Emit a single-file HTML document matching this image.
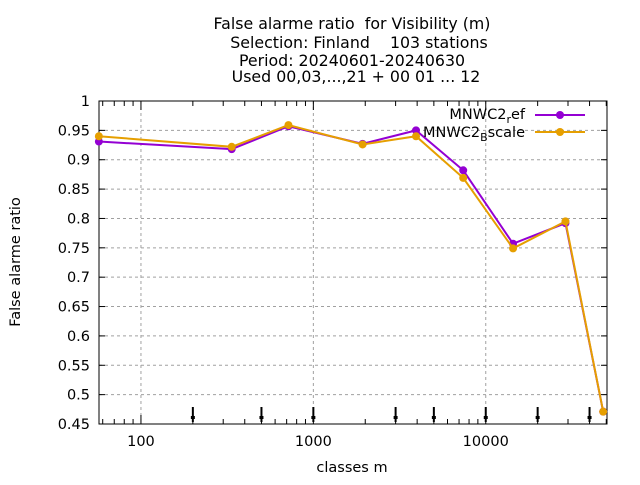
<!DOCTYPE html>
<html><head><meta charset="utf-8"><style>
body{margin:0;background:#fff;}
svg text{font-family:"DejaVu Sans","Liberation Sans",sans-serif;font-size:14.5px;fill:#000;white-space:pre;}
</style></head><body>
<svg id="chart" width="640" height="480">
<g text-anchor="middle" style="font-size:15.8px">
<text x="352" y="29" style="font-size:15.8px">False alarme ratio  for Visibility (m)</text>
<text x="359" y="48" style="font-size:15.8px">Selection: Finland    103 stations</text>
<text x="352" y="66" style="font-size:15.8px">Period: 20240601-20240630</text>
<text x="356" y="82" style="font-size:15.8px">Used 00,03,...,21 + 00 01 ... 12</text>
</g>
<g id="grid"></g>
<g id="axes"></g>
<g id="series"></g>
<text x="352" y="472" text-anchor="middle">classes m</text>
<text transform="translate(20,262) rotate(-90)" text-anchor="middle">False alarme ratio</text>
<g>
<text x="525" y="119" text-anchor="end">MNWC2<tspan font-size="11" dy="4">r</tspan><tspan dy="-4">ef</tspan></text>
<line x1="535" y1="115" x2="585" y2="115" stroke="#9400d3" stroke-width="2"/>
<circle cx="560" cy="115" r="4" fill="#9400d3"/>
<text x="525" y="137" text-anchor="end">MNWC2<tspan font-size="11" dy="4">B</tspan><tspan dy="-4">scale</tspan></text>
<line x1="535" y1="132" x2="585" y2="132" stroke="#e69f00" stroke-width="2"/>
<circle cx="560" cy="132" r="4" fill="#e69f00"/>
</g>
</svg>
<script>
const xClasses=[57,336,717,1930,3940,7400,14400,29000,48000];
const refValues=[0.931,0.918,0.957,0.927,0.950,0.882,0.757,0.792,0.471];
const bscaleValues=[0.940,0.922,0.959,0.926,0.940,0.869,0.749,0.795,0.471];
const yTicks=[0.45,0.5,0.55,0.6,0.65,0.7,0.75,0.8,0.85,0.9,0.95,1];
const yTickLabels=["0.45","0.5","0.55","0.6","0.65","0.7","0.75","0.8","0.85","0.9","0.95","1"];
const xTicks=[100,1000,10000];
const xTickLabels=["100","1000","10000"];
const arrowClasses=[200,500,1000,3000,5000,10000,20000,40000];

const L=99,R=607,T=101,B=424;
const lmin=Math.log10(57.1),lmax=Math.log10(50500);
const X=v=>L+(Math.log10(v)-lmin)/(lmax-lmin)*(R-L);
const Y=v=>B-(v-0.45)/0.55*(B-T);
const NS="http://www.w3.org/2000/svg";
function mk(p,tag,attrs){const e=document.createElementNS(NS,tag);for(const k in attrs)e.setAttribute(k,attrs[k]);p.appendChild(e);return e;}
const grid=document.getElementById('grid'),axes=document.getElementById('axes'),ser=document.getElementById('series');
yTicks.forEach((v,i)=>{
  if(i>0&&i<yTicks.length-1){const g=mk(grid,'line',{x1:L,x2:R,y1:Y(v),y2:Y(v),stroke:'#a0a0a0','stroke-dasharray':'3,3'});
  
  }
  mk(axes,'line',{x1:L,x2:L+6,y1:Y(v),y2:Y(v),stroke:'#000'});
  mk(axes,'line',{x1:R,x2:R-6,y1:Y(v),y2:Y(v),stroke:'#000'});
  const t=mk(axes,'text',{x:L-9,y:Y(v)+5,'text-anchor':'end'});t.textContent=yTickLabels[i];
  
  
});
xTicks.forEach((v,i)=>{
  const g=mk(grid,'line',{x1:X(v),x2:X(v),y1:T,y2:B,stroke:'#a0a0a0','stroke-dasharray':'3,3'});
  
  
  const t=mk(axes,'text',{x:X(v),y:B+22,'text-anchor':'middle'});t.textContent=xTickLabels[i];
  
  
});
for(let d=10;d<=10000;d*=10)for(let m=1;m<10;m++){const v=d*m;if(v<57.1||v>50500)continue;const len=(m===1)?9:5;
  mk(axes,'line',{x1:X(v),x2:X(v),y1:B,y2:B-len,stroke:'#000'});mk(axes,'line',{x1:X(v),x2:X(v),y1:T,y2:T+len,stroke:'#000'});}
mk(axes,'rect',{x:L,y:T,width:R-L,height:B-T,fill:'none',stroke:'#000','stroke-width':1});
arrowClasses.forEach(v=>{
  const a=mk(axes,'g',{});
  
  
  mk(a,'line',{x1:X(v),x2:X(v),y1:B-17,y2:B-2,stroke:'#000','stroke-width':2});
  mk(a,'rect',{x:X(v)-2,y:B-8,width:4,height:3,fill:'#000'});
});
function drawSeries(vals,color,name){
  const g=mk(ser,'g',{});
  
  
  mk(g,'polyline',{points:vals.map((v,i)=>X(xClasses[i])+','+Y(v)).join(' '),fill:'none',stroke:color,'stroke-width':2});
  vals.forEach((v,i)=>{const p=mk(g,'circle',{cx:X(xClasses[i]),cy:Y(v),r:4,fill:color});
    
    });
}
drawSeries(refValues,'#9400d3','series-ref');
drawSeries(bscaleValues,'#e69f00','series-bscale');
</script>
</body></html>
